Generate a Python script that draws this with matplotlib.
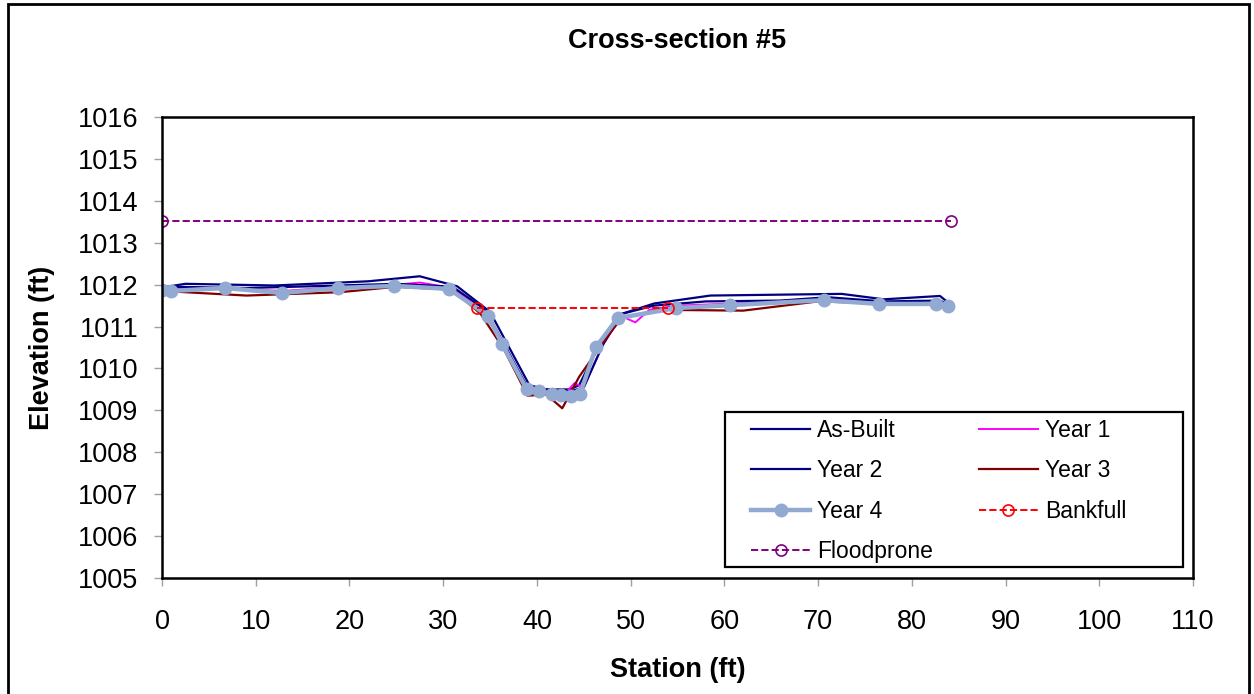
import matplotlib
matplotlib.use("Agg")
import matplotlib.pyplot as plt
from matplotlib.patches import Rectangle

plt.rcParams['font.family'] = ['Liberation Sans', 'DejaVu Sans']

# survey data (station ft, elevation ft)
asbuilt_x = [0.5, 2.5, 12, 22, 27.5, 31.5, 35, 39.2, 41, 43.5, 44.5, 46.5, 49, 52.5, 58.5, 72.5, 77, 83, 84]
asbuilt_y = [1011.95, 1012.02, 1011.98, 1012.08, 1012.2, 1011.96, 1011.35, 1009.6, 1009.5, 1009.5,
             1009.6, 1010.5, 1011.3, 1011.55, 1011.74, 1011.78, 1011.65, 1011.73, 1011.55]

year1_x = [0, 1, 7, 13, 19, 25, 27.5, 31, 34, 36.5, 39, 41, 43, 44, 45, 47, 49, 50.5, 52, 55, 61, 71, 77, 83, 84]
year1_y = [1011.9, 1011.92, 1011.9, 1011.85, 1011.95, 1012.0, 1012.05, 1011.92, 1011.4, 1010.6,
           1009.45, 1009.45, 1009.4, 1009.65, 1009.55, 1010.55, 1011.25, 1011.1, 1011.4, 1011.5,
           1011.55, 1011.68, 1011.55, 1011.55, 1011.5]

year2_x = [0, 1, 9, 19, 25, 31, 34.5, 39, 41, 43.5, 45, 47, 49, 52.5, 58, 66, 71, 77, 83, 84]
year2_y = [1011.92, 1011.95, 1011.92, 1011.98, 1012.02, 1011.95, 1011.4, 1009.55, 1009.5, 1009.45,
           1009.55, 1010.55, 1011.3, 1011.5, 1011.6, 1011.62, 1011.7, 1011.6, 1011.62, 1011.52]

year3_x = [0, 9, 19, 25, 31, 34, 36.5, 39, 41, 42.7, 44.5, 47, 49, 53, 62, 70, 77, 83, 84]
year3_y = [1011.85, 1011.74, 1011.82, 1011.95, 1011.88, 1011.3, 1010.45, 1009.35, 1009.38, 1009.05,
           1009.8, 1010.6, 1011.2, 1011.4, 1011.38, 1011.6, 1011.55, 1011.55, 1011.5]

year4_x = [0, 1, 6.7, 12.8, 18.8, 24.8, 30.6, 34.8, 36.3, 38.9, 40.2, 41.6, 42.6, 43.6, 44.6,
           46.3, 48.6, 54.8, 60.6, 70.6, 76.5, 82.6, 83.9]
year4_y = [1011.87, 1011.85, 1011.92, 1011.8, 1011.92, 1011.97, 1011.9, 1011.25, 1010.58, 1009.51,
           1009.46, 1009.39, 1009.37, 1009.34, 1009.39, 1010.51, 1011.2, 1011.44, 1011.51, 1011.63,
           1011.54, 1011.54, 1011.49]

bankfull_x = [33.6, 54.0]
bankfull_y = [1011.45, 1011.45]

floodprone_x = [0, 84.2]
floodprone_y = [1013.52, 1013.52]

fig = plt.figure(figsize=(12.54, 6.94), dpi=100)
ax = fig.add_axes([0.1292, 0.1671, 0.8222, 0.6643])

ax.plot(asbuilt_x, asbuilt_y, color='#000080', lw=1.6, label='As-Built')
ax.plot(year1_x, year1_y, color='#FF00FF', lw=1.4, label='Year 1')
ax.plot(year2_x, year2_y, color='#000080', lw=1.6, label='Year 2')
ax.plot(year3_x, year3_y, color='#800000', lw=1.6, label='Year 3')
ax.plot(year4_x, year4_y, color='#92A9D2', lw=3.2, marker='o', ms=9, label='Year 4')
ax.plot(bankfull_x, bankfull_y, color='#FF0000', lw=1.4, ls='--', marker='o', ms=8,
        mfc='none', mec='#FF0000', mew=1.2, label='Bankfull')
ax.plot(floodprone_x, floodprone_y, color='#800080', lw=1.4, ls='--', marker='o', ms=8,
        mfc='none', mec='#800080', mew=1.2, label='Floodprone')

ax.set_xlim(0, 110)
ax.set_ylim(1005, 1016)
ax.set_xticks(range(0, 111, 10))
ax.set_yticks(range(1005, 1017))
ax.tick_params(axis='both', labelsize=19.5, color='#A0A0A0', length=6, width=1, direction='out')
ax.tick_params(axis='x', pad=16)
ax.tick_params(axis='y', pad=11)
for s in ax.spines.values():
    s.set_linewidth(1.8)
    s.set_color('black')

ax.set_title('Cross-section #5', fontsize=19.5, fontweight='bold', pad=50)
ax.set_xlabel('Station (ft)', fontsize=19.5, fontweight='bold', labelpad=16)
ax.set_ylabel('Elevation (ft)', fontsize=19.5, fontweight='bold', labelpad=16)

# legend box drawn by hand, entries placed inside it
ax.add_patch(Rectangle((0.546, 0.024), 0.444, 0.336, transform=ax.transAxes,
                       facecolor='white', edgecolor='black', lw=1.6, zorder=4.9))
handles, labels = ax.get_legend_handles_labels()
order = [0, 2, 4, 6, 1, 3, 5]
leg = ax.legend([handles[i] for i in order], [labels[i] for i in order], ncol=2,
                loc='upper left', bbox_to_anchor=(0.5713, 0.345),
                fontsize=16.5, frameon=False, handlelength=2.58, handletextpad=0.3,
                labelspacing=0.76, borderpad=0, borderaxespad=0, columnspacing=2.0)
leg.set_zorder(5)

# outer chart border
fig.patches.append(Rectangle((0.0064, -0.01), 0.9896, 1.004, transform=fig.transFigure,
                             fill=False, edgecolor='black', lw=2))

fig.savefig('out.png', dpi=100)
